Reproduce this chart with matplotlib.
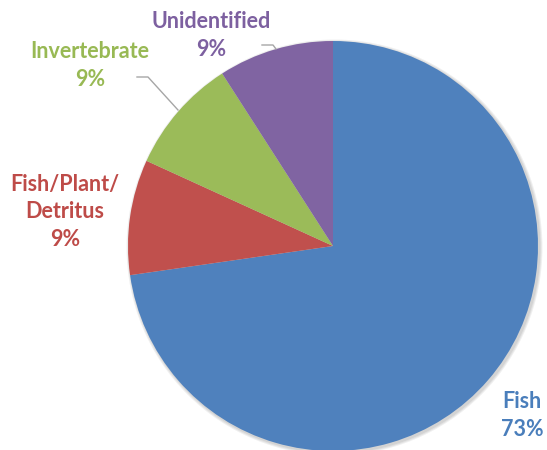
import matplotlib
matplotlib.use("Agg")
import matplotlib.pyplot as plt
from matplotlib.patches import Circle

categories = ["Fish", "Fish/Plant/\nDetritus", "Invertebrate", "Unidentified"]
values = [8, 1, 1, 1]
pct_labels = ["73%", "9%", "9%", "9%"]
colors = ["#4F81BD", "#C0504D", "#9BBB59", "#8064A2"]
text_colors = ["#4A7EBB", "#BE4B48", "#98B954", "#7D60A0"]

W, H = 547, 450
fig = plt.figure(figsize=(W / 100, H / 100), dpi=100)
ax = fig.add_axes([0, 0, 1, 1])

cx, cy, r = 333, H - 246, 205
# soft shadow behind the pie
for i, a in enumerate([0.06, 0.06, 0.06]):
    ax.add_patch(Circle((cx + 1.5, cy - 1.5), r + 1 + i, color="#000000", alpha=a, lw=0, zorder=0))
wedges, _ = ax.pie(values, colors=colors, startangle=90, counterclock=False,
                   center=(cx, cy), radius=r, frame=True,
                   wedgeprops=dict(linewidth=0, zorder=1))
ax.set_xlim(0, W)
ax.set_ylim(0, H)
ax.set_aspect("equal")
ax.axis("off")

font = dict(family=["Lato", "DejaVu Sans"], fontweight="bold", fontsize=15.5)
# line centres (pixel y from top) for each label
label_lines = [
    (522, [402, 430]),
    (65, [185, 212, 240]),
    (90, [52, 80]),
    (211, [22, 50]),
]
for cat, pct, col, (x, ys) in zip(categories, pct_labels, text_colors, label_lines):
    lines = cat.split("\n") + [pct]
    for line, y in zip(lines, ys):
        ax.text(x, H - y, line, color=col, ha="center", va="center", **font)

# leader lines
ax.plot([137, 148, 178], [H - 77, H - 77, H - 110], color="#A6A6A6", lw=1)
ax.plot([262, 273, 276], [H - 45, H - 45, H - 49], color="#A6A6A6", lw=1)

fig.savefig("out.png", dpi=100)
